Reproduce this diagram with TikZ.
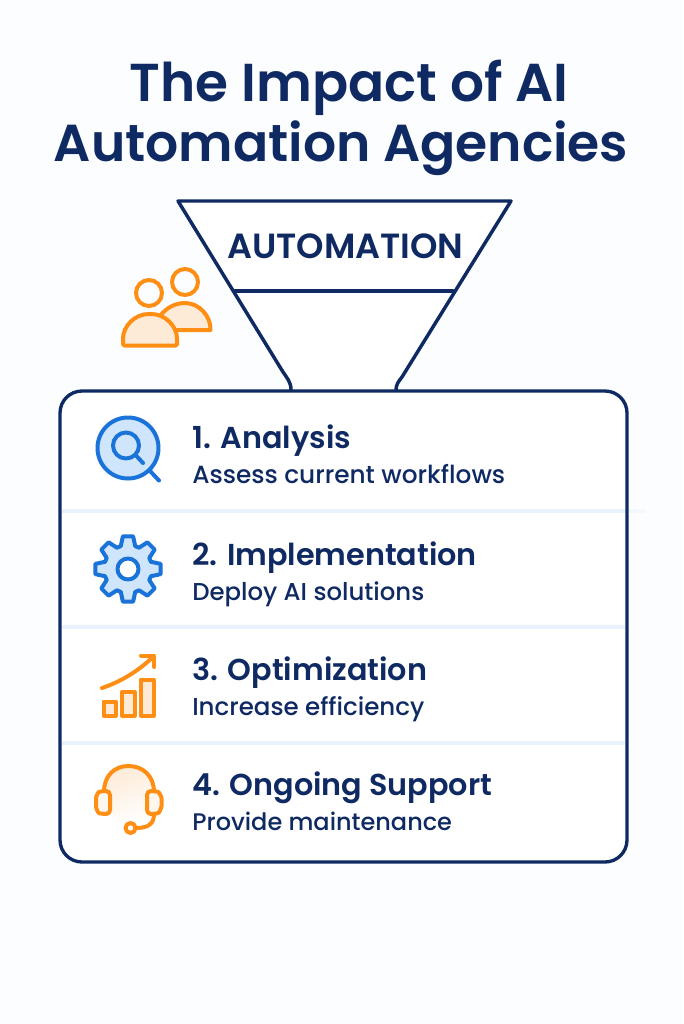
\documentclass[tikz,border=0pt]{standalone}
\usepackage{fontspec}
\setmainfont{Poppins Medium}[BoldFont=Poppins SemiBold]
\definecolor{navy}{HTML}{0F2A63}
\definecolor{bgc}{HTML}{FBFDFF}
\definecolor{divc}{HTML}{EAF3FD}
\definecolor{blu}{HTML}{1A73D8}
\definecolor{blufill}{HTML}{CFE5FB}
\definecolor{org}{HTML}{FF8E14}
\definecolor{orgfill}{HTML}{FDEBD7}
\tikzset{
  px/.style={x=0.75pt,y=-0.75pt},
  titletext/.style={text=navy,font=\fontsize{39}{46}\selectfont\bfseries,align=center,inner sep=0pt,anchor=base},
  headtext/.style={text=navy,font=\fontsize{22.7}{28}\selectfont\bfseries,inner sep=0pt,anchor=base west},
  subtext/.style={text=navy,font=\fontsize{18.3}{22}\selectfont,inner sep=0pt,anchor=base west},
  funnelline/.style={draw=navy,line width=2.6pt,line join=round,line cap=round},
  cardbox/.style={draw=navy,line width=2.5pt,rounded corners=16.5pt},
  divline/.style={draw=divc,line width=3pt},
  bluicon/.style={draw=blu,line width=3pt,line join=round,line cap=round},
  orgicon/.style={draw=org,line width=3pt,line join=round,line cap=round},
}
\begin{document}
\begin{tikzpicture}[px]
\fill[bgc] (0,0) rectangle (683,1024);
\useasboundingbox (0,0) rectangle (683,1024);
% title
\node[titletext,font=\fontsize{40}{46}\selectfont\bfseries] (t1) at (349,101) {The Impact of AI};
\node[titletext] (t2) at (341,161) {Automation Agencies};
% card
\fill[white,rounded corners=16.5pt] (60,391) rectangle (627,862);
\draw[divline,divc!50!bgc] (627,511) -- (645,511);
\draw[divline] (62,511) -- (627,511);
\draw[divline] (62,627) -- (625,627);
\draw[divline] (62,743) -- (625,743);
% funnel
\path[fill=white] (178,201) -- (511,201) -- (402,377) -- (396,391) -- (291,391) -- (283,372) -- cycle;
\path[cardbox] (60,391) rectangle (627,862);
\draw[funnelline] (291,390) .. controls (291,382) and (287,378) .. (283,372) -- (178,201) -- (511,201) -- (402,377) .. controls (398,382) and (396,385) .. (396,390);
\draw[funnelline] (235,291) -- (453,291);
\node[text=navy,font=\fontsize{26.2}{32}\selectfont\bfseries,inner sep=0pt,anchor=base] (fn) at (345.5,258) {AUTOMATION};
% people
\path[orgicon,fill=orgfill] (160,330) -- (210.5,330) .. controls (211,316) and (199,303) .. (185,303) .. controls (175,303) and (166,308) .. (160,316) -- cycle;
\path[orgicon,fill=bgc] (185,282) circle (13);
\path[orgicon,fill=orgfill,rounded corners=1pt] (123,345.5) -- (123,340) .. controls (123,326) and (135,314) .. (150,314) .. controls (165,314) and (177,326) .. (177,340) -- (177,345.5) -- cycle;
\path[orgicon,fill=bgc] (149,293) circle (13);
% magnifier
\path[bluicon,fill=blufill] (128,448) circle (30.5);
\draw[bluicon] (150.5,471.5) -- (159,480.5);
\path[bluicon] (126,445.5) circle (13);
\draw[bluicon] (135.5,455) -- (143,463);
% gear
\path[bluicon,fill=blufill] ({128+24*cos(-17.5)},{569+24*sin(-17.5)})
  \foreach \a in {0,45,...,315}{
    -- ({128+33*cos(\a-9)},{569+33*sin(\a-9)})
    -- ({128+33*cos(\a+9)},{569+33*sin(\a+9)})
    -- ({128+24*cos(\a+17.5)},{569+24*sin(\a+17.5)})
    -- ({128+24*cos(\a+27.5)},{569+24*sin(\a+27.5)})
  } -- cycle;
\path[bluicon,fill=white] (128,569) circle (10.5);
% chart
\path[orgicon,fill=orgfill] (103.5,701.5) rectangle (115.5,715.5);
\path[orgicon,fill=orgfill] (122,692) rectangle (134.5,715.5);
\path[orgicon,fill=orgfill] (140.5,679.5) rectangle (153.5,715.5);
\draw[orgicon] (102,688) .. controls (120,682) and (137,672) .. (153,657);
\draw[orgicon] (141,655.5) -- (154,655.5) -- (154,667);
% headset
\shade[top color=orgfill,middle color=orgfill,bottom color=white,shading angle=20] (104,792) .. controls (104,776) and (114,766) .. (128,766) .. controls (142,766) and (153,776) .. (153,792) -- (150,815) -- (130,826) -- (108,812) -- cycle;
\draw[orgicon] (104,792) .. controls (104,776) and (114,766) .. (128.5,766) .. controls (143,766) and (154,776) .. (154,792);
\path[orgicon,fill=orgfill!40,rounded corners=3pt] (110,791) -- (103,791) .. controls (98,792) and (96,797) .. (96,802) .. controls (96,808) and (98,813) .. (103,814) -- (110,814) -- cycle;
\path[orgicon,fill=orgfill!40,rounded corners=3pt] (147,791) -- (154,791) .. controls (159,792) and (161.5,797) .. (161.5,802) .. controls (161.5,808) and (159,813) .. (154,814) -- (147,814) -- cycle;
\draw[orgicon] (154,814) .. controls (154,824) and (148,828) .. (136,828);
\path[orgicon,fill=white] (130.5,828) circle (5);
% texts
\node[headtext] (h1) at (192,448) {1. Analysis};
\node[subtext,font=\fontsize{18.6}{22}\selectfont]  (s1) at (192,483) {Assess current workflows};
\node[headtext] (h2) at (192,565) {2. Implementation};
\node[subtext]  (s2) at (192,600) {Deploy AI solutions};
\node[headtext] (h3) at (192,680) {3. Optimization};
\node[subtext,font=\fontsize{18.4}{22}\selectfont]  (s3) at (192,715) {Increase efficiency};
\node[headtext] (h4) at (192,795) {4. Ongoing Support};
\node[subtext,font=\fontsize{18}{22}\selectfont]  (s4) at (192,830) {Provide maintenance};
\end{tikzpicture}
\end{document}
